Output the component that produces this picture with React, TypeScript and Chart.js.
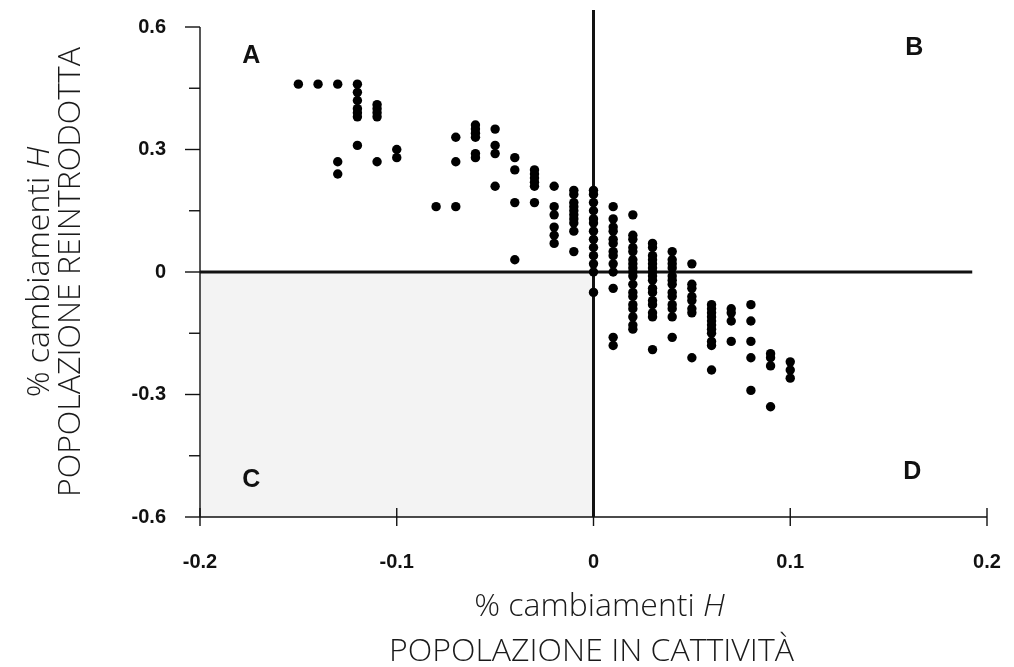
import React, { useEffect, useRef } from "react";
import { Chart, registerables } from "chart.js";

Chart.register(...registerables);

// x positions of the point columns (% change H, captive population)
const xValues = [
  -0.15, -0.14, -0.13, -0.12, -0.11, -0.1, -0.08, -0.07, -0.06, -0.05, -0.04, -0.03, -0.02, -0.01,
  0, 0.01, 0.02, 0.03, 0.04, 0.05, 0.06, 0.07, 0.08, 0.09, 0.1,
];

// y values per column (% change H, reintroduced population)
const yValues: number[][] = [
  [0.46],
  [0.46],
  [0.46, 0.27, 0.24],
  [0.46, 0.44, 0.42, 0.4, 0.39, 0.38, 0.31],
  [0.41, 0.4, 0.39, 0.38, 0.27],
  [0.3, 0.28],
  [0.16],
  [0.33, 0.27, 0.16],
  [0.36, 0.35, 0.34, 0.33, 0.29, 0.28],
  [0.35, 0.31, 0.29, 0.21],
  [0.28, 0.25, 0.17, 0.03],
  [0.25, 0.24, 0.23, 0.22, 0.21, 0.17],
  [0.21, 0.16, 0.14, 0.11, 0.09, 0.07],
  [0.2, 0.19, 0.17, 0.16, 0.15, 0.14, 0.13, 0.12, 0.1, 0.05],
  [0.2, 0.19, 0.17, 0.15, 0.13, 0.12, 0.1, 0.08, 0.06, 0.04, 0.02, 0.0, -0.05],
  [0.16, 0.13, 0.11, 0.1, 0.08, 0.07, 0.05, 0.04, 0.02, 0.0, -0.04, -0.16, -0.18],
  [0.14, 0.09, 0.08, 0.06, 0.05, 0.03, 0.02, 0.01, 0.0, -0.01, -0.03, -0.05, -0.06, -0.08, -0.09, -0.11, -0.13, -0.14],
  [0.07, 0.06, 0.04, 0.03, 0.02, 0.01, 0.0, -0.01, -0.02, -0.04, -0.05, -0.07, -0.08, -0.1, -0.11, -0.19],
  [0.05, 0.03, 0.02, 0.01, -0.01, -0.02, -0.03, -0.05, -0.06, -0.08, -0.09, -0.11, -0.16],
  [0.02, -0.03, -0.04, -0.06, -0.07, -0.09, -0.1, -0.21],
  [-0.08, -0.09, -0.1, -0.11, -0.12, -0.13, -0.14, -0.15, -0.17, -0.18, -0.24],
  [-0.09, -0.1, -0.12, -0.17],
  [-0.08, -0.12, -0.17, -0.21, -0.29],
  [-0.2, -0.21, -0.23, -0.33],
  [-0.22, -0.24, -0.26],
];

const xTickValues = [-0.2, -0.1, 0, 0.1, 0.2];
const xTickLabels = ["-0.2", "-0.1", "0", "0.1", "0.2"];
const yTickValues = [-0.6, -0.3, 0, 0.3, 0.6];
const yTickLabels = ["-0.6", "-0.3", "0", "0.3", "0.6"];
const yMinorTickValues = [-0.45, -0.15, 0.15, 0.45];

const quadrantLabels = ["A", "B", "C", "D"];
const xTitleLine1 = "% cambiamenti ";
const titleItalic = "H";
const xTitleLine2 = "POPOLAZIONE IN CATTIVITÀ";
const yTitleLine1 = "% cambiamenti ";
const yTitleLine2 = "POPOLAZIONE REINTRODOTTA";

const TICK_FONT = "'Liberation Sans', Arial, sans-serif";
const TITLE_FONT = "'Open Sans', 'Noto Sans', sans-serif";

function labelFor(values: number[], labels: string[], v: number) {
  const i = values.findIndex((t) => Math.abs(t - v) < 1e-6);
  return i >= 0 ? labels[i] : "";
}

const decorPlugin = {
  id: "decor",
  beforeDatasetsDraw(chart: any) {
    const { ctx, chartArea } = chart;
    const xs = chart.scales.x;
    const ys = chart.scales.y;
    const x0 = xs.getPixelForValue(0);
    const y0 = ys.getPixelForValue(0);
    ctx.save();
    // shaded lower-left quadrant
    ctx.fillStyle = "#f3f3f3";
    ctx.fillRect(chartArea.left, y0, x0 - chartArea.left, chartArea.bottom - y0);

    ctx.strokeStyle = "#111";
    // axes
    ctx.lineWidth = 1.4;
    ctx.beginPath();
    ctx.moveTo(chartArea.left, chartArea.top);
    ctx.lineTo(chartArea.left, chartArea.bottom);
    ctx.moveTo(chartArea.left, chartArea.bottom);
    ctx.lineTo(chartArea.right, chartArea.bottom);
    ctx.stroke();
    // y ticks
    for (const v of yTickValues) {
      const p = ys.getPixelForValue(v);
      ctx.beginPath();
      ctx.moveTo(chartArea.left - 15, p);
      ctx.lineTo(chartArea.left, p);
      ctx.stroke();
    }
    for (const v of yMinorTickValues) {
      const p = ys.getPixelForValue(v);
      ctx.beginPath();
      ctx.moveTo(chartArea.left - 11, p);
      ctx.lineTo(chartArea.left, p);
      ctx.stroke();
    }
    // x ticks
    for (const v of xTickValues) {
      const p = xs.getPixelForValue(v);
      ctx.beginPath();
      ctx.moveTo(p, chartArea.bottom - 9);
      ctx.lineTo(p, chartArea.bottom + 9);
      ctx.stroke();
    }
    // thick zero lines
    ctx.lineWidth = 3;
    ctx.beginPath();
    ctx.moveTo(x0, chartArea.top - 17);
    ctx.lineTo(x0, chartArea.bottom);
    ctx.moveTo(chartArea.left, y0);
    ctx.lineTo(xs.getPixelForValue(0.1925), y0);
    ctx.stroke();
    ctx.restore();
  },
  afterDraw(chart: any) {
    const { ctx, chartArea } = chart;
    const xs = chart.scales.x;
    const ys = chart.scales.y;
    ctx.save();
    // quadrant letters
    ctx.fillStyle = "#111";
    ctx.font = "bold 25px 'Liberation Sans', Arial, sans-serif";
    ctx.textAlign = "center";
    ctx.textBaseline = "middle";
    const qx = [xs.getPixelForValue(-0.174), xs.getPixelForValue(0.163), xs.getPixelForValue(-0.174), xs.getPixelForValue(0.162)];
    const qy = [ys.getPixelForValue(0.528), ys.getPixelForValue(0.548), ys.getPixelForValue(-0.51), ys.getPixelForValue(-0.49)];
    quadrantLabels.forEach((t, i) => ctx.fillText(t, qx[i], qy[i]));

    // titles
    const targetWidth = 405;
    ctx.font = `300 100px ${TITLE_FONT}`;
    const w100 = ctx.measureText(xTitleLine2).width;
    const size = (100 * targetWidth) / w100;
    const normal = `300 ${size}px ${TITLE_FONT}`;
    const italic = `italic 300 ${size}px ${TITLE_FONT}`;
    ctx.fillStyle = "#1a1a1a";
    ctx.textBaseline = "middle";

    const drawLine1 = (cx: number, cy: number, base: string) => {
      ctx.font = normal;
      const w1 = ctx.measureText(base).width;
      ctx.font = italic;
      const w2 = ctx.measureText(titleItalic).width;
      const start = cx - (w1 + w2) / 2;
      ctx.textAlign = "left";
      ctx.font = normal;
      ctx.fillText(base, start, cy);
      ctx.font = italic;
      ctx.fillText(titleItalic, start + w1, cy);
    };

    const xc = (chartArea.left + chartArea.right) / 2;
    drawLine1(xc + 6, 607, xTitleLine1);
    ctx.font = normal;
    ctx.textAlign = "center";
    ctx.fillText(xTitleLine2, xc - 2, 652);

    const yc = ys.getPixelForValue(0);
    ctx.save();
    ctx.translate(40, yc);
    ctx.rotate(-Math.PI / 2);
    drawLine1(0, 0, yTitleLine1);
    ctx.restore();
    ctx.save();
    ctx.translate(71, yc);
    ctx.rotate(-Math.PI / 2);
    ctx.font = normal;
    ctx.textAlign = "center";
    ctx.fillText(yTitleLine2, 0, 0);
    ctx.restore();

    ctx.restore();
  },
};

export default function App() {
  const ref = useRef<HTMLCanvasElement | null>(null);
  useEffect(() => {
    if (!ref.current) return;
    const points: { x: number; y: number }[] = [];
    xValues.forEach((x, i) => yValues[i].forEach((y) => points.push({ x, y })));
    const chart = new Chart(ref.current, {
      type: "scatter",
      data: {
        datasets: [
          {
            data: points,
            backgroundColor: "#000",
            borderColor: "#000",
            pointRadius: 4.7,
            pointBorderWidth: 0,
          },
        ],
      },
      options: {
        animation: false,
        responsive: false,
        events: [],
        layout: { padding: { top: 27, right: 27, left: 0, bottom: 0 } },
        plugins: { legend: { display: false }, tooltip: { enabled: false } },
        scales: {
          x: {
            type: "linear",
            min: -0.2,
            max: 0.2,
            afterFit: (s: any) => {
              s.height = 150;
              s.paddingLeft = 0;
              s.paddingRight = 0;
            },
            afterBuildTicks: (s: any) => {
              s.ticks = xTickValues.map((v) => ({ value: v }));
            },
            grid: { display: false, drawTicks: false },
            border: { display: false },
            ticks: {
              padding: 33,
              color: "#111",
              font: { family: TICK_FONT, size: 20, weight: "bold" },
              callback: (v: any) => labelFor(xTickValues, xTickLabels, Number(v)),
              maxRotation: 0,
            },
          },
          y: {
            type: "linear",
            min: -0.6,
            max: 0.6,
            afterFit: (s: any) => {
              s.width = 200;
              s.paddingTop = 0;
              s.paddingBottom = 0;
            },
            afterBuildTicks: (s: any) => {
              s.ticks = yTickValues.map((v) => ({ value: v }));
            },
            grid: { display: false, drawTicks: false },
            border: { display: false },
            ticks: {
              padding: 34,
              color: "#111",
              font: { family: TICK_FONT, size: 20, weight: "bold" },
              callback: (v: any) => labelFor(yTickValues, yTickLabels, Number(v)),
            },
          },
        },
      },
      plugins: [decorPlugin],
    } as any);
    return () => chart.destroy();
  }, []);
  return (
    <div style={{ position: "absolute", left: 0, top: 0, width: 1014, height: 667, background: "#fff" }}>
      <canvas ref={ref} width={1014} height={667} style={{ width: 1014, height: 667, display: "block" }} />
    </div>
  );
}
